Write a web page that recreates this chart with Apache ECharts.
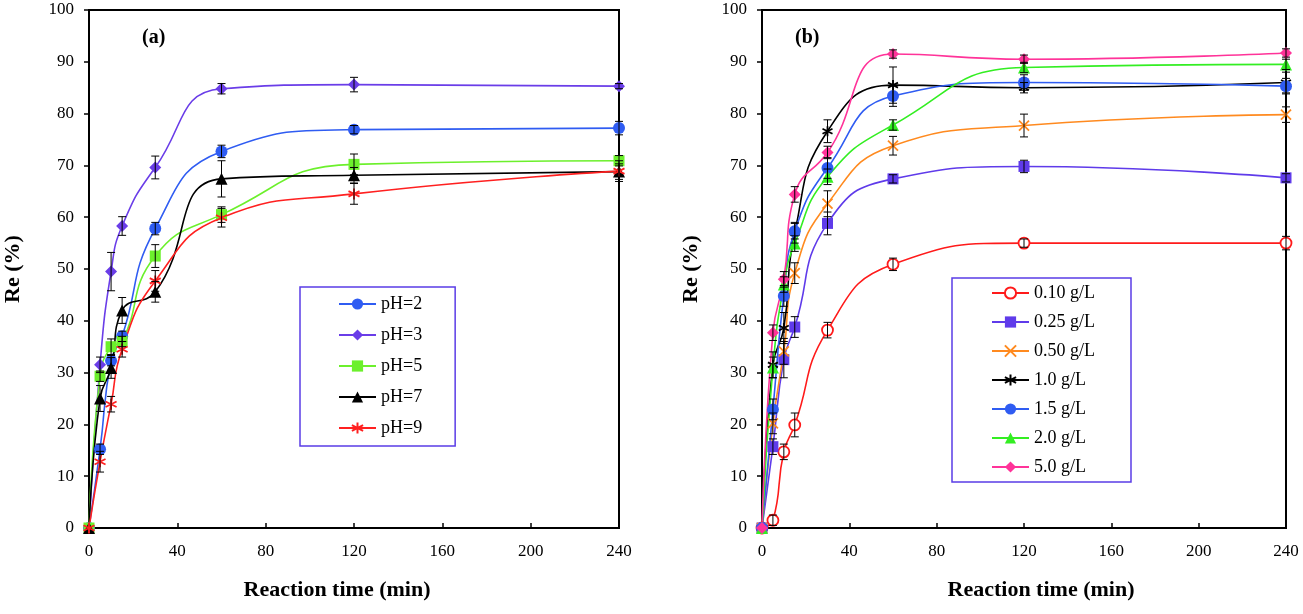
<!DOCTYPE html>
<html>
<head>
<meta charset="utf-8">
<script src="https://cdn.jsdelivr.net/npm/echarts@6/dist/echarts.min.js"></script>
<style>html,body{margin:0;padding:0;background:#fff}#c{width:1303px;height:614px}</style>
</head>
<body>
<div id="c"></div>
<script>
const times = [0, 5, 10, 15, 30, 60, 120, 240];
const xTicks = [0, 40, 80, 120, 160, 200, 240];

// Panel (a): pH
const namesA = ['pH=2', 'pH=3', 'pH=5', 'pH=7', 'pH=9'];
const pH2 = [0, 15.2, 32.3, 37.0, 57.8, 72.7, 76.9, 77.2];
const pH3 = [0, 31.5, 49.5, 58.3, 69.6, 84.8, 85.6, 85.3];
const pH5 = [0, 29.3, 35.0, 36.0, 52.5, 60.5, 70.2, 70.9];
const pH7 = [0, 25.0, 30.9, 42.0, 45.6, 67.4, 68.1, 68.8];
const pH9 = [0, 12.8, 23.9, 34.5, 47.7, 59.9, 64.5, 68.9];
const errPH2 = [0, 1.0, 1.0, 1.0, 1.2, 1.2, 0.8, 1.3];
const errPH3 = [0, 1.5, 3.7, 1.8, 2.2, 1.0, 1.4, 0.5];
const errPH5 = [0, 1.0, 1.5, 1.0, 2.2, 1.5, 2.0, 1.0];
const errPH7 = [0, 2.5, 2.0, 2.5, 2.0, 3.5, 1.5, 1.5];
const errPH9 = [0, 2.0, 1.5, 1.5, 2.0, 1.8, 2.0, 2.0];

// Panel (b): dose
const namesB = ['0.10 g/L', '0.25 g/L', '0.50 g/L', '1.0 g/L', '1.5 g/L', '2.0 g/L', '5.0 g/L'];
const d010 = [0, 1.5, 14.7, 19.9, 38.2, 50.9, 55.0, 55.0];
const d025 = [0, 15.7, 32.5, 38.8, 58.8, 67.4, 69.8, 67.6];
const d050 = [0, 20.2, 34.1, 49.2, 62.6, 73.8, 77.7, 79.8];
const d10  = [0, 31.5, 38.6, 57.0, 76.6, 85.5, 85.0, 86.0];
const d15  = [0, 22.9, 44.8, 57.3, 69.5, 83.4, 86.0, 85.3];
const d20  = [0, 31.0, 47.0, 54.9, 67.8, 77.8, 88.9, 89.5];
const d50  = [0, 37.7, 48.0, 64.4, 72.5, 91.5, 90.5, 91.7];
const err010 = [0, 1.0, 1.5, 2.3, 1.5, 1.2, 0.8, 1.3];
const err025 = [0, 1.5, 3.5, 2.0, 2.2, 0.8, 1.2, 0.8];
const err050 = [0, 2.0, 2.5, 2.0, 2.5, 1.8, 2.2, 1.5];
const err10  = [0, 2.5, 3.0, 2.0, 2.2, 3.5, 1.0, 2.0];
const err15  = [0, 2.0, 2.0, 1.5, 2.0, 2.0, 1.5, 1.5];
const err20  = [0, 2.0, 1.5, 1.5, 1.5, 1.0, 1.0, 1.0];
const err50  = [0, 1.5, 1.5, 1.5, 1.2, 0.8, 0.8, 0.8];

const FONT = 'Liberation Serif';
const STAR = 'path://M5,0L5,10M0.67,2.5L9.33,7.5M0.67,7.5L9.33,2.5';
const CROSS = 'path://M0,0L10,10M10,0L0,10';

const seriesDefA = [
  {name: namesA[0], v: pH2, e: errPH2, c: '#2f5cf2', sym: 'circle', size: 12},
  {name: namesA[1], v: pH3, e: errPH3, c: '#6a3de8', sym: 'diamond', size: 12},
  {name: namesA[2], v: pH5, e: errPH5, c: '#6cf02c', sym: 'rect', size: 11},
  {name: namesA[3], v: pH7, e: errPH7, c: '#000000', sym: 'triangle', size: 12},
  {name: namesA[4], v: pH9, e: errPH9, c: '#ff2020', sym: STAR, size: 11, stroke: true}
];
const seriesDefB = [
  {name: namesB[0], v: d010, e: err010, c: '#ff1a1a', sym: 'circle', size: 11, empty: true},
  {name: namesB[1], v: d025, e: err025, c: '#5f3bea', sym: 'rect', size: 11},
  {name: namesB[2], v: d050, e: err050, c: '#ff8a1f', sym: CROSS, size: 10, stroke: true},
  {name: namesB[3], v: d10,  e: err10,  c: '#000000', sym: STAR, size: 10, stroke: true},
  {name: namesB[4], v: d15,  e: err15,  c: '#2f5cf2', sym: 'circle', size: 12},
  {name: namesB[5], v: d20,  e: err20,  c: '#33ee22', sym: 'triangle', size: 12},
  {name: namesB[6], v: d50,  e: err50,  c: '#ff3399', sym: 'diamond', size: 12}
];

function buildSeries(defs, idx) {
  const out = [];
  defs.forEach(d => {
    let itemStyle;
    if (d.stroke) itemStyle = {color: 'rgba(0,0,0,0)', borderColor: d.c, borderWidth: 1.8};
    else if (d.empty) itemStyle = {color: '#ffffff', borderColor: d.c, borderWidth: 1.8, opacity: 1};
    else itemStyle = {color: d.c};
    out.push({
      type: 'line', name: d.name, xAxisIndex: idx, yAxisIndex: idx,
      data: times.map((t, i) => [t, d.v[i]]),
      smooth: 0.5, symbol: d.sym, symbolSize: d.size, showAllSymbol: true,
      lineStyle: {color: d.c, width: 1.6}, itemStyle: itemStyle,
      emphasis: {disabled: true}, z: 3
    });
  });
  defs.forEach(d => {
    out.push({
      type: 'custom', name: d.name + ' err', xAxisIndex: idx, yAxisIndex: idx,
      data: times.map((t, i) => [t, d.v[i] - d.e[i], d.v[i] + d.e[i], d.e[i]]),
      renderItem: function (params, api) {
        if (api.value(3) <= 0) return null;
        const lo = api.coord([api.value(0), api.value(1)]);
        const hi = api.coord([api.value(0), api.value(2)]);
        const w = 4;
        const st = {stroke: '#000', lineWidth: 1};
        return {type: 'group', children: [
          {type: 'line', shape: {x1: lo[0], y1: lo[1], x2: hi[0], y2: hi[1]}, style: st},
          {type: 'line', shape: {x1: lo[0] - w, y1: lo[1], x2: lo[0] + w, y2: lo[1]}, style: st},
          {type: 'line', shape: {x1: hi[0] - w, y1: hi[1], x2: hi[0] + w, y2: hi[1]}, style: st}
        ]};
      },
      silent: true, z: 4
    });
  });
  return out;
}

function xAxis(idx, pad) {
  return {
    type: 'value', gridIndex: idx, min: 0, max: 240, interval: 40,
    name: 'Reaction time (min)', nameLocation: 'middle', nameGap: 51,
    nameTextStyle: {fontFamily: FONT, fontSize: 22, fontWeight: 'bold', color: '#000', padding: pad},
    axisLine: {show: true, onZero: false, lineStyle: {color: '#000', width: 2}},
    axisTick: {show: true, inside: true, length: 5, lineStyle: {color: '#000', width: 1.5}},
    axisLabel: {fontFamily: FONT, fontSize: 17, color: '#000', margin: 15},
    splitLine: {show: false}
  };
}
function yAxis(idx, gap) {
  return {
    type: 'value', gridIndex: idx, min: 0, max: 100, interval: 10,
    name: 'Re (%)', nameLocation: 'middle', nameGap: gap, nameRotate: 90,
    nameTextStyle: {fontFamily: FONT, fontSize: 22, fontWeight: 'bold', color: '#000'},
    axisLine: {show: true, lineStyle: {color: '#000', width: 2}},
    axisTick: {show: true, inside: false, length: 5, lineStyle: {color: '#000', width: 1.5}},
    axisLabel: {fontFamily: FONT, fontSize: 17, color: '#000', margin: 15},
    splitLine: {show: false}
  };
}

const legendText = {fontFamily: FONT, fontSize: 18, color: '#000'};
const option = {
  animation: false,
  backgroundColor: '#fff',
  title: [
    {text: '(a)', left: 137, top: 23, textStyle: {fontFamily: FONT, fontSize: 20, fontWeight: 'bold', color: '#000'}},
    {text: '(b)', left: 790, top: 23, textStyle: {fontFamily: FONT, fontSize: 20, fontWeight: 'bold', color: '#000'}}
  ],
  grid: [
    {left: 89, right: 684, top: 10, bottom: 86, show: true, borderColor: '#000', borderWidth: 2, backgroundColor: 'transparent'},
    {left: 762, right: 17, top: 10, bottom: 86, show: true, borderColor: '#000', borderWidth: 2, backgroundColor: 'transparent'}
  ],
  xAxis: [xAxis(0, [0, 34, 0, 0]), xAxis(1, [0, 0, 0, 34])],
  yAxis: [yAxis(0, 65), yAxis(1, 60)],
  legend: [
    {data: namesA, orient: 'vertical', left: 300, top: 287, itemWidth: 37, itemHeight: 14, itemGap: 13,
     padding: [8, 33, 9, 38], borderColor: '#5a3ce6', borderWidth: 1.5, textStyle: legendText, selectedMode: false,
     backgroundColor: '#fff'},
    {data: namesB, orient: 'vertical', left: 952, top: 278, itemWidth: 37, itemHeight: 14, itemGap: 11,
     padding: [6, 36, 6, 39], borderColor: '#5a3ce6', borderWidth: 1.5, textStyle: legendText, selectedMode: false,
     backgroundColor: '#fff'}
  ],
  series: buildSeries(seriesDefA, 0).concat(buildSeries(seriesDefB, 1))
};
const chart = echarts.init(document.getElementById('c'), null, {renderer: 'canvas'});
chart.setOption(option);
</script>
</body>
</html>
